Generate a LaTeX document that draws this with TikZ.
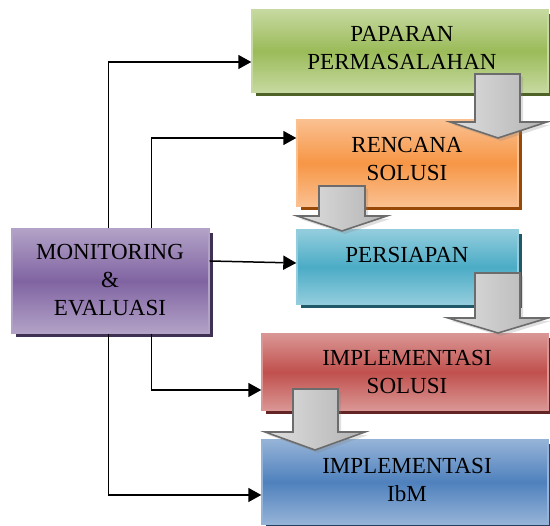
\documentclass[tikz,border=0pt]{standalone}
\usepackage{fontspec}
\setmainfont{Liberation Serif}
\usetikzlibrary{shadows,arrows.meta}
\definecolor{cGreen}{HTML}{9BBB59}\definecolor{lGreen}{HTML}{C6D9A0}\definecolor{sGreen}{HTML}{4F6228}
\definecolor{cOrange}{HTML}{F79646}\definecolor{lOrange}{HTML}{FAC090}\definecolor{sOrange}{HTML}{984807}
\definecolor{cTeal}{HTML}{4BACC6}\definecolor{lTeal}{HTML}{93CDDD}\definecolor{sTeal}{HTML}{215968}
\definecolor{cRed}{HTML}{C0504D}\definecolor{lRed}{HTML}{DA9694}\definecolor{sRed}{HTML}{632523}
\definecolor{cBlue}{HTML}{4F81BD}\definecolor{lBlue}{HTML}{95B3D7}\definecolor{sBlue}{HTML}{244061}
\definecolor{cPurple}{HTML}{8064A2}\definecolor{lPurple}{HTML}{B3A2C7}\definecolor{sPurple}{HTML}{3F3151}
\tikzset{
  boxstyle/.style n args={3}{rectangle, inner sep=0pt, line width=1.4pt,
    draw=#2, top color=#2, bottom color=#2, middle color=#1,
    drop shadow={shadow xshift=4pt, shadow yshift=-4pt, opacity=1, fill=#3}},
  boxtext/.style={font=\fontsize{23}{28}\selectfont, align=center, inner sep=0pt},
  conn/.style={line width=1.5pt, -{Triangle[length=13pt,width=14pt]}},
  blockarrow/.style={line width=1.6pt, draw=gray!85!black, left color=gray!25, right color=gray!60,
    drop shadow={shadow xshift=3pt, shadow yshift=-3pt, opacity=0.25, fill=gray}}
}
\begin{document}
\begin{tikzpicture}[x=1pt,y=1pt]
\useasboundingbox (0,0) rectangle (550,526);
% boxes
\node[boxstyle={cGreen}{lGreen}{sGreen}, minimum width=296pt, minimum height=82pt] (pap) at (400,475) {};
\node[boxstyle={cOrange}{lOrange}{sOrange}, minimum width=221pt, minimum height=86pt] (ren) at (407.5,363) {};
\node[boxstyle={cTeal}{lTeal}{sTeal}, minimum width=221pt, minimum height=74pt] (per) at (407.5,259) {};
\node[boxstyle={cRed}{lRed}{sRed}, minimum width=286pt, minimum height=76pt] (sol) at (405,154) {};
\node[boxstyle={cBlue}{lBlue}{sBlue}, minimum width=286pt, minimum height=84pt] (ibm) at (405,44) {};
\node[boxstyle={cPurple}{lPurple}{sPurple}, minimum width=197pt, minimum height=104pt] (mon) at (110.5,245) {};
% texts
\node[boxtext] (paptext) at (402,478) {PAPARAN\\PERMASALAHAN};
\node[boxtext] (rentext) at (407,367) {RENCANA\\SOLUSI};
\node[boxtext] (pertext) at (407,271) {PERSIAPAN};
\node[boxtext] (soltext) at (407,154) {IMPLEMENTASI\\SOLUSI};
\node[boxtext] (ibmtext) at (407,46) {IMPLEMENTASI\\IbM};
\node[boxtext] (montext) at (110,246) {MONITORING\\\&\\EVALUASI};
% connectors
\draw[conn] ([xshift=97pt]mon.north west) |- ([yshift=-11pt]pap.west);
\draw[conn] ([xshift=140pt]mon.north west) |- ([yshift=25pt]ren.west);
\draw[conn] ([yshift=20pt]mon.east) -- ([yshift=4pt]per.west);
\draw[conn] ([xshift=140pt]mon.south west) |- ([yshift=-18pt]sol.west);
\draw[conn] ([xshift=97pt]mon.south west) |- ([yshift=-13pt]ibm.west);
% block arrows
\path[blockarrow] (475,452) -- (520,452) -- (520,404) -- (547,404) -- (498,388) -- (450,404) -- (475,404) -- cycle;
\path[blockarrow] (319,340) -- (365,340) -- (365,310) -- (387,310) -- (342,295) -- (297,310) -- (319,310) -- cycle;
\path[blockarrow] (475,253) -- (520,253) -- (520,208) -- (548,208) -- (498,193) -- (448,208) -- (475,208) -- cycle;
\path[blockarrow] (293,137) -- (338,137) -- (338,94) -- (365,94) -- (315,76) -- (265,94) -- (293,94) -- cycle;
\end{tikzpicture}
\end{document}
